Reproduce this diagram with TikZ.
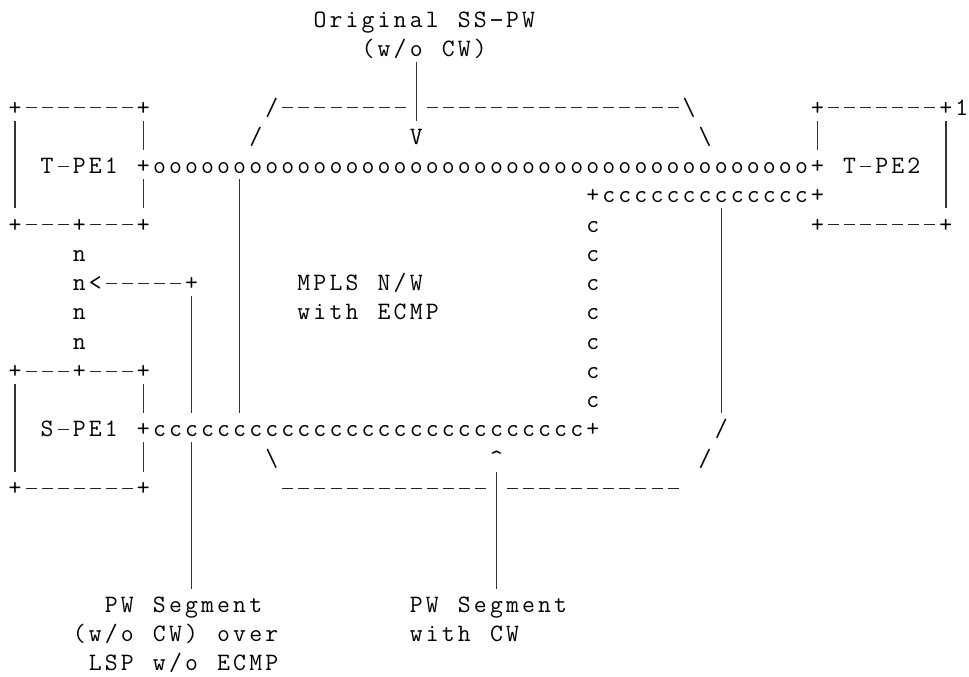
\documentclass[tikz,border=0pt]{standalone}
\newlength\cw \setlength\cw{16.05pt}
\def\cellsEnd{\cellsEnd}
\newcommand\vbarrule{\textcolor{black!80}{\rule[-5.6pt]{1.3pt}{29.4pt}}}
\newcommand\dashrule{\textcolor{black!85}{\rule[6.6pt]{11pt}{1.2pt}}}
\newcommand\cellone[1]{\ifx|#1\makebox[\cw][c]{\vbarrule}\else\ifx-#1\makebox[\cw][c]{\dashrule}\else\makebox[\cw][c]{#1}\fi\fi}
\def\cellsgo#1{\ifx\cellsEnd#1\else\cellone{#1}\expandafter\cellsgo\fi}
\newcommand\cells[1]{\cellsgo#1\cellsEnd}
\tikzset{txt/.style={anchor=base west, inner sep=0pt, outer sep=0pt,
  font=\ttfamily\fontsize{25}{29}\selectfont}}
\newcommand\seg[3]{\node[txt] (r#1c#2) at ({6.975+16.05*#2},{-27.3-29.25*(#1-1)}) {\cells{#3}};}
\newcommand\rep[4]{\node[txt] (r#1c#2) at ({6.975+16.05*#2},{-27.3-29.25*(#1-1)}) {\foreach\k in {1,...,#3}{\cellone{#4}}};}
\begin{document}
\begin{tikzpicture}[x=1pt,y=1pt]
\fill[white] (0,0) rectangle (969,-677);
\useasboundingbox (0,0) rectangle (969,-677);
% row 1-3
\seg{1}{19}{Original~SS-PW}
\seg{2}{22}{(w/o~CW)}
\seg{3}{25}{|}
% row 4
\seg{4}{0}{+-------+}
\seg{4}{16}{/--------|----------------\textbackslash}
\seg{4}{50}{+-------+1}
% row 5
\seg{5}{0}{|~~~~~~~|}
\seg{5}{15}{/}
\seg{5}{25}{V}
\seg{5}{43}{\textbackslash}
\seg{5}{50}{|~~~~~~~|}
% row 6
\seg{6}{0}{|~T-PE1~+}
\rep{6}{9}{41}{o}
\seg{6}{50}{+~T-PE2~|}
% row 7
\seg{7}{0}{|~~~~~~~|}
\seg{7}{14}{|}
\seg{7}{36}{+}
\rep{7}{37}{13}{c}
\seg{7}{50}{+}
\seg{7}{58}{|}
% row 8
\seg{8}{0}{+---+---+}
\seg{8}{14}{|}
\seg{8}{36}{c}
\seg{8}{44}{|}
\seg{8}{50}{+-------+}
% row 9
\seg{9}{4}{n}
\seg{9}{14}{|}
\seg{9}{36}{c}
\seg{9}{44}{|}
% row 10
\seg{10}{4}{n<-----+}
\seg{10}{14}{|}
\seg{10}{18}{MPLS~N/W}
\seg{10}{36}{c}
\seg{10}{44}{|}
% row 11
\seg{11}{4}{n}
\seg{11}{11}{|}
\seg{11}{14}{|}
\seg{11}{18}{with~ECMP}
\seg{11}{36}{c}
\seg{11}{44}{|}
% row 12
\seg{12}{4}{n}
\seg{12}{11}{|}
\seg{12}{14}{|}
\seg{12}{36}{c}
\seg{12}{44}{|}
% row 13
\seg{13}{0}{+---+---+}
\seg{13}{11}{|}
\seg{13}{14}{|}
\seg{13}{36}{c}
\seg{13}{44}{|}
% row 14
\seg{14}{0}{|~~~~~~~|}
\seg{14}{11}{|}
\seg{14}{14}{|}
\seg{14}{36}{c}
\seg{14}{44}{|}
% row 15
\seg{15}{0}{|~S-PE1~+}
\rep{15}{9}{27}{c}
\seg{15}{36}{+}
\seg{15}{44}{/}
% row 16
\seg{16}{0}{|~~~~~~~|}
\seg{16}{11}{|}
\seg{16}{16}{\textbackslash}
\seg{16}{30}{\textasciicircum}
\seg{16}{43}{/}
% row 17
\seg{17}{0}{+-------+}
\seg{17}{11}{|}
\seg{17}{17}{-------------|-----------}
% rows 18-20
\seg{18}{11}{|}
\seg{18}{30}{|}
\seg{19}{11}{|}
\seg{19}{30}{|}
\seg{20}{11}{|}
\seg{20}{30}{|}
% rows 21-23
\seg{21}{6}{PW~Segment}
\seg{21}{25}{PW~Segment}
\seg{22}{4}{(w/o~CW)~over}
\seg{22}{25}{with~CW}
\seg{23}{5}{LSP~w/o~ECMP}
\end{tikzpicture}
\end{document}
